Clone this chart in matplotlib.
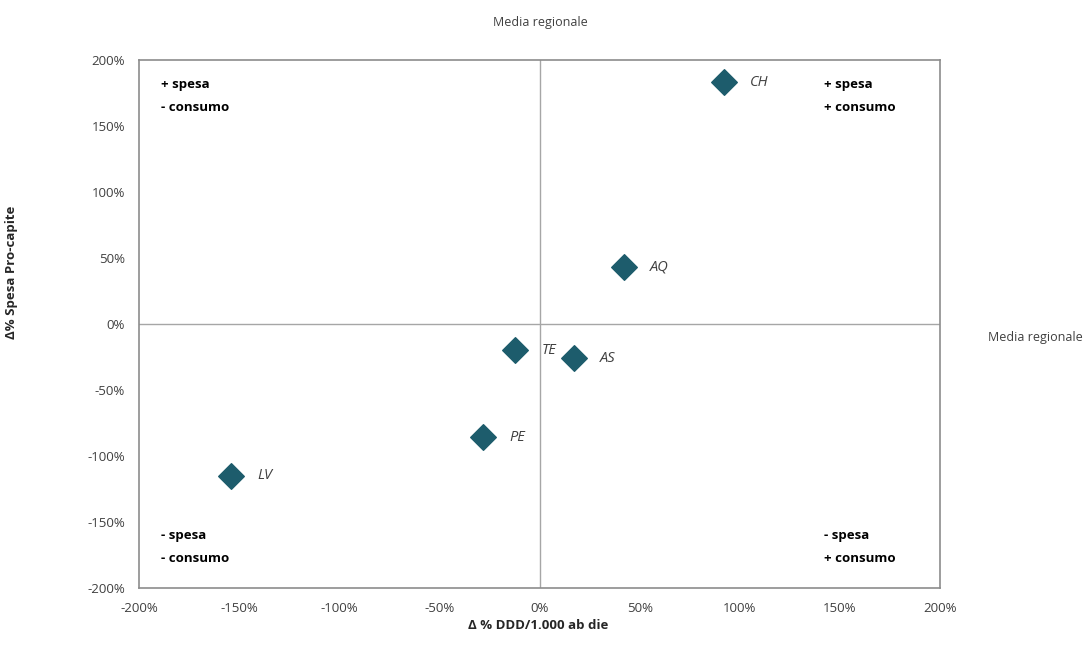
import matplotlib.pyplot as plt
from matplotlib.ticker import FuncFormatter

# data
labels = ['CH', 'AQ', 'TE', 'AS', 'PE', 'LV']
ddd_delta = [92, 42, -12, 17, -28, -154]
spesa_delta = [183, 43, -20, -26, -86, -115]

ticks = [-200, -150, -100, -50, 0, 50, 100, 150, 200]

plt.rcParams['font.family'] = ['Open Sans', 'DejaVu Sans']

fig = plt.figure(figsize=(10.92, 6.52), dpi=100)
ax = fig.add_axes([0.1273, 0.0982, 0.7335, 0.8098])

# quadrant lines (media regionale)
ax.axhline(0, color='#a6a6a6', lw=1, zorder=1)
ax.axvline(0, color='#a6a6a6', lw=1, zorder=1)

ax.scatter(ddd_delta, spesa_delta, marker='D', s=170, color='#1d5c6c',
           edgecolor='#1d5c6c', zorder=3)
for lab, x, y in zip(labels, ddd_delta, spesa_delta):
    ax.annotate(lab, (x, y), xytext=(19, 0), textcoords='offset points',
                fontsize=10.5, style='italic', color='#404040', va='center')

ax.set_xlim(-200, 200)
ax.set_ylim(-200, 200)
ax.set_xticks(ticks)
ax.set_yticks(ticks)
pct = FuncFormatter(lambda v, p: f'{v:.0f}%')
ax.xaxis.set_major_formatter(pct)
ax.yaxis.set_major_formatter(pct)
ax.tick_params(length=0, labelsize=9.5, colors='#404040', pad=10)
for s in ax.spines.values():
    s.set_color('#8c8c8c')
    s.set_linewidth(1.2)

qkw = dict(fontsize=9.5, fontweight='bold', color='black', linespacing=2.0,
           transform=ax.transAxes, va='top')
ax.text(0.028, 0.965, '+ spesa\n- consumo', **qkw)
ax.text(0.855, 0.965, '+ spesa\n+ consumo', **qkw)
ax.text(0.028, 0.111, '- spesa\n- consumo', **qkw)
ax.text(0.855, 0.111, '- spesa\n+ consumo', **qkw)

ax.set_xlabel('Δ % DDD/1.000 ab die', fontsize=9.5, fontweight='bold',
              color='#262626')
ax.xaxis.set_label_coords(0.498, -0.058)
ax.set_ylabel('Δ% Spesa Pro-capite', fontsize=9.5, fontweight='bold',
              color='#262626')
ax.yaxis.set_label_coords(-0.151, 0.598)

fig.text(0.495, 0.965, 'Media regionale', fontsize=9, color='#404040',
         ha='center', va='center')
fig.text(0.948, 0.482, 'Media regionale', fontsize=9, color='#404040',
         ha='center', va='center')

fig.savefig('out.png', dpi=100)
